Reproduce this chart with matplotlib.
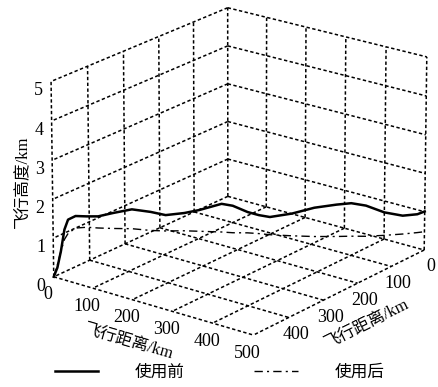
import matplotlib
matplotlib.use("Agg")
import matplotlib.pyplot as plt
from matplotlib.lines import Line2D
from matplotlib.transforms import ScaledTranslation

plt.rcParams['font.family'] = ['Liberation Serif', 'Noto Sans CJK SC', 'DejaVu Sans']

# track along x (flight distance) and y (flight distance)
track_x = [0, 5, 10, 15, 20, 30, 45, 60, 80, 105, 130, 150, 175, 195, 225, 240,
           260, 275, 290, 320, 350, 380, 400, 420, 445, 470, 490, 500]
track_y = [500, 495, 490, 485, 480, 470, 455, 440, 420, 395, 370, 350, 325, 305, 275, 260,
           240, 225, 210, 180, 150, 120, 100, 80, 55, 30, 10, 0]
alt_before = [0, 0.23, 0.65, 1.2, 1.45, 1.53, 1.50, 1.48, 1.54, 1.60, 1.50, 1.39, 1.41, 1.46,
              1.58, 1.51, 1.32, 1.22, 1.15, 1.20, 1.31, 1.35, 1.36, 1.27, 1.06, 0.94, 0.95, 1.01]
alt_after = [0, 0.30, 0.65, 0.95, 1.10, 1.22, 1.22, 1.18, 1.14, 1.10, 1.02, 0.98, 0.95, 0.91,
             0.85, 0.81, 0.78, 0.74, 0.69, 0.62, 0.56, 0.52, 0.50, 0.47, 0.46, 0.46, 0.47, 0.48]

dist_ticks = [0, 100, 200, 300, 400, 500]
alt_ticks = [0, 1, 2, 3, 4, 5]
series_names = ['使用前', '使用后']
xlabel = '飞行距离/km'
ylabel = '飞行距离/km'
zlabel = '飞行高度/km'

GRID = dict(color='black', lw=1.1, linestyle=(0, (2.2, 1.6)), zorder=1)
DASHDOT = (0, (6, 3, 1.5, 3))

fig = plt.figure(figsize=(4.39, 3.87), dpi=100)
ax = fig.add_axes([-0.025, 0.045, 1.12, 1.02], projection='3d', proj_type='persp',
                  focal_length=2.4, computed_zorder=False)

x0, x1 = min(dist_ticks), max(dist_ticks)
y0, y1 = min(dist_ticks), max(dist_ticks)
z0, z1 = min(alt_ticks), max(alt_ticks)

# dotted box grid: floor, left wall (x = x0) and back wall (y = y0), each edge drawn once
for t in dist_ticks:
    ax.plot([t, t], [y0, y1], [z0, z0], **GRID)          # floor, constant x
    ax.plot([x0, x1], [t, t], [z0, z0], **GRID)          # floor, constant y
    ax.plot([x0, x0], [t, t], [z0, z1], **GRID)          # left wall verticals
    if t != x0:
        ax.plot([t, t], [y0, y0], [z0, z1], **GRID)      # back wall verticals
for h in alt_ticks:
    if h != z0:
        ax.plot([x0, x0], [y0, y1], [h, h], **GRID)      # left wall horizontals
        ax.plot([x0, x1], [y0, y0], [h, h], **GRID)      # back wall horizontals

ax.plot(track_x, track_y, alt_before, color='black', lw=1.8, zorder=5)
ax.plot(track_x, track_y, alt_after, color='black', lw=1.0, linestyle=DASHDOT, zorder=5)

ax.grid(False)
ax.set_xlim(x0, x1)
ax.set_ylim(y1, y0)
ax.set_zlim(z0, z1)
ax.set_xticks(dist_ticks)
ax.set_yticks(dist_ticks)
ax.set_yticklabels([str(t) if t != y1 else '' for t in dist_ticks])
ax.set_zticks(alt_ticks)
ax.view_init(elev=20.5, azim=-52.5)
ax.set_box_aspect((4, 4.54, 3.3), zoom=1.065)

for axis in (ax.xaxis, ax.yaxis, ax.zaxis):
    axis.set_pane_color((1, 1, 1, 0))
    axis.pane.set_edgecolor('none')
    axis.line.set_color((1, 1, 1, 0))
    axis._axinfo['tick']['inward_factor'] = 0
    axis._axinfo['tick']['outward_factor'] = 0
ax.zaxis.set_ticks_position('upper')
ax.zaxis.set_label_position('upper')
ax.tick_params(labelsize=13, pad=-3)

ax.set_xlabel(xlabel, fontsize=12, labelpad=-2)
ax.set_ylabel(ylabel, fontsize=12, labelpad=-2)
ax.set_zlabel(zlabel, fontsize=12, labelpad=-9)
ax.zaxis.set_rotate_label(False)
ax.zaxis.label.set_rotation(90)
ax.xaxis.label.set_transform(ax.transData + ScaledTranslation(-0.17, 0.02, fig.dpi_scale_trans))
ax.yaxis.label.set_transform(ax.transData + ScaledTranslation(0.10, 0.12, fig.dpi_scale_trans))

handles = [Line2D([], [], color='black', lw=1.8),
           Line2D([], [], color='black', lw=1.0, linestyle=DASHDOT)]
fig.legend(handles, series_names, loc='lower center', bbox_to_anchor=(0.5, -0.022), ncol=2,
           frameon=False, fontsize=12, handlelength=2.6, handletextpad=2.2, columnspacing=4.2)

fig.savefig('out.png', dpi=100)
